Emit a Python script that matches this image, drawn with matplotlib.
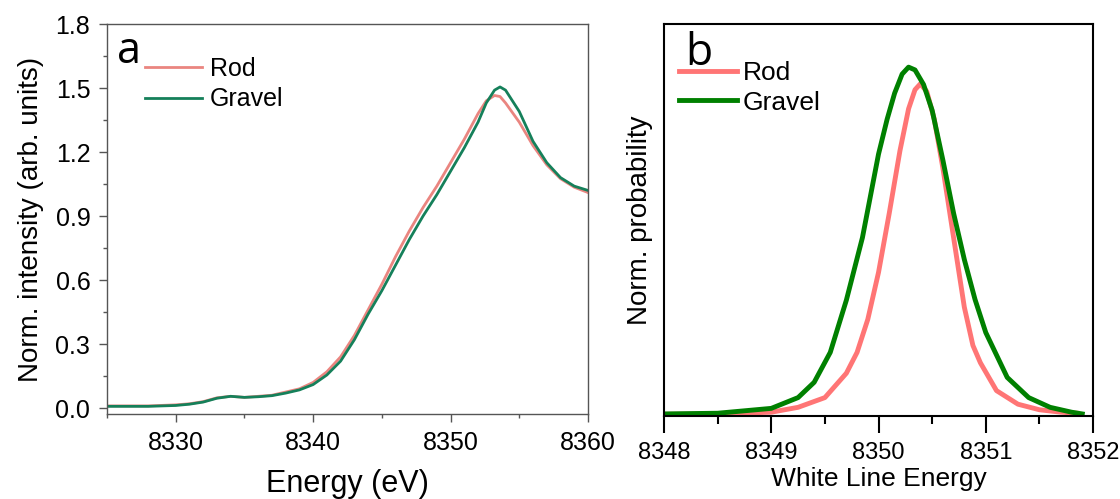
import matplotlib
matplotlib.use('Agg')
import matplotlib.pyplot as plt
import matplotlib.ticker as ticker

plt.rcParams['font.family'] = ['Liberation Sans', 'DejaVu Sans']

# panel a: XANES spectra
energy_a = [8325, 8328, 8330, 8331, 8332, 8333, 8334, 8335, 8336, 8337, 8338, 8339,
            8340, 8341, 8342, 8343, 8344, 8345, 8346, 8347, 8348, 8349, 8350, 8351,
            8352, 8352.6, 8353.2, 8353.6, 8354, 8355, 8356, 8357, 8358, 8359, 8360]
rod_a = [0.010, 0.010, 0.015, 0.020, 0.030, 0.048, 0.055, 0.050, 0.055, 0.060, 0.075, 0.090,
         0.120, 0.170, 0.240, 0.340, 0.460, 0.580, 0.710, 0.830, 0.940, 1.040, 1.150, 1.260,
         1.380, 1.440, 1.465, 1.460, 1.430, 1.340, 1.230, 1.140, 1.075, 1.035, 1.010]
gravel_a = [0.008, 0.008, 0.012, 0.018, 0.028, 0.046, 0.055, 0.050, 0.053, 0.058, 0.070, 0.085,
            0.110, 0.155, 0.220, 0.320, 0.440, 0.550, 0.670, 0.790, 0.900, 1.000, 1.110, 1.220,
            1.340, 1.430, 1.490, 1.505, 1.490, 1.390, 1.250, 1.150, 1.080, 1.040, 1.020]

# panel b: white line energy distributions
energy_b_gravel = [8348.0, 8348.5, 8349.0, 8349.25, 8349.4, 8349.55, 8349.7, 8349.85, 8350.0,
                   8350.08, 8350.15, 8350.22, 8350.28, 8350.34, 8350.42, 8350.5, 8350.6,
                   8350.7, 8350.8, 8350.9, 8351.0, 8351.2, 8351.4, 8351.6, 8351.8, 8351.9]
gravel_b = [0.003, 0.005, 0.019, 0.050, 0.094, 0.180, 0.330, 0.510, 0.750,
            0.850, 0.925, 0.980, 1.000, 0.992, 0.950, 0.876, 0.733,
            0.580, 0.447, 0.332, 0.237, 0.108, 0.050, 0.022, 0.008, 0.003]
energy_b_rod = [8348.0, 8348.5, 8349.0, 8349.25, 8349.5, 8349.7, 8349.8, 8349.9, 8350.0,
                8350.1, 8350.2, 8350.28, 8350.34, 8350.39, 8350.45, 8350.52, 8350.6,
                8350.7, 8350.8, 8350.88, 8350.95, 8351.1, 8351.3, 8351.5, 8351.7, 8351.85]
rod_b = [0.002, 0.003, 0.008, 0.022, 0.050, 0.120, 0.180, 0.275, 0.410,
         0.580, 0.760, 0.880, 0.935, 0.952, 0.930, 0.850, 0.710,
         0.510, 0.310, 0.200, 0.150, 0.070, 0.031, 0.015, 0.008, 0.005]

fig = plt.figure(figsize=(11.2, 4.99), dpi=100)

# PANEL A
ax_a = fig.add_axes([0.0955, 0.1703, 0.4295, 0.7816])
ax_a.plot(energy_a, rod_a, color='#ea8580', lw=2.0, label='Rod')
ax_a.plot(energy_a, gravel_a, color='#15805a', lw=2.0, label='Gravel')
ax_a.set_xlim(8325, 8360)
ax_a.set_ylim(-0.028, 1.8)
ax_a.xaxis.set_major_locator(ticker.MultipleLocator(10))
ax_a.xaxis.set_minor_locator(ticker.MultipleLocator(5))
ax_a.yaxis.set_major_locator(ticker.MultipleLocator(0.3))
ax_a.yaxis.set_minor_locator(ticker.MultipleLocator(0.15))
ax_a.yaxis.set_major_formatter(ticker.FormatStrFormatter('%.1f'))
ax_a.tick_params(which='both', direction='out', top=False, right=False,
                 color='#555555', width=1)
ax_a.tick_params(which='major', length=6, labelsize=18, pad=6)
ax_a.tick_params(which='minor', length=3)
for s in ax_a.spines.values():
    s.set_color('#555555')
    s.set_linewidth(1)
ax_a.set_xlabel('Energy (eV)', fontsize=22, labelpad=10)
ax_a.set_ylabel('Norm. intensity (arb. units)', fontsize=20, labelpad=8)
ax_a.text(0.021, 0.9, 'a', transform=ax_a.transAxes, fontsize=31,
          family=['Open Sans', 'DejaVu Sans'], va='baseline', ha='left')
ax_a.legend(loc='upper left', bbox_to_anchor=(0.079, 0.915), frameon=False,
            fontsize=18, handlelength=2.3, handletextpad=0.3, labelspacing=0.25,
            borderpad=0, borderaxespad=0)

# PANEL B
ax_b = fig.add_axes([0.5929, 0.1663, 0.383, 0.7856])
ax_b.plot(energy_b_rod, rod_b, color='#ff7575', lw=3.5, label='Rod')
ax_b.plot(energy_b_gravel, gravel_b, color='#008000', lw=3.5, label='Gravel')
ax_b.set_xlim(8348, 8352)
ax_b.set_ylim(-0.003, 1.124)
ax_b.xaxis.set_major_locator(ticker.MultipleLocator(1))
ax_b.xaxis.set_minor_locator(ticker.MultipleLocator(0.5))
ax_b.set_yticks([])
ax_b.tick_params(which='both', direction='out', width=1.5, color='black')
ax_b.tick_params(which='major', length=12, labelsize=17, pad=7)
ax_b.tick_params(which='minor', length=6)
for s in ax_b.spines.values():
    s.set_linewidth(1.5)
ax_b.set_xlabel('White Line Energy', fontsize=19, labelpad=2)
ax_b.set_ylabel('Norm. probability', fontsize=20, labelpad=8)
ax_b.text(0.049, 0.895, 'b', transform=ax_b.transAxes, fontsize=32,
          family=['Open Sans', 'DejaVu Sans'], va='baseline', ha='left')
ax_b.legend(loc='upper left', bbox_to_anchor=(0.035, 0.905), frameon=False,
            fontsize=19, handlelength=2.2, handletextpad=0.2, labelspacing=0.2,
            borderpad=0, borderaxespad=0)

plt.savefig('out.png', dpi=100)
